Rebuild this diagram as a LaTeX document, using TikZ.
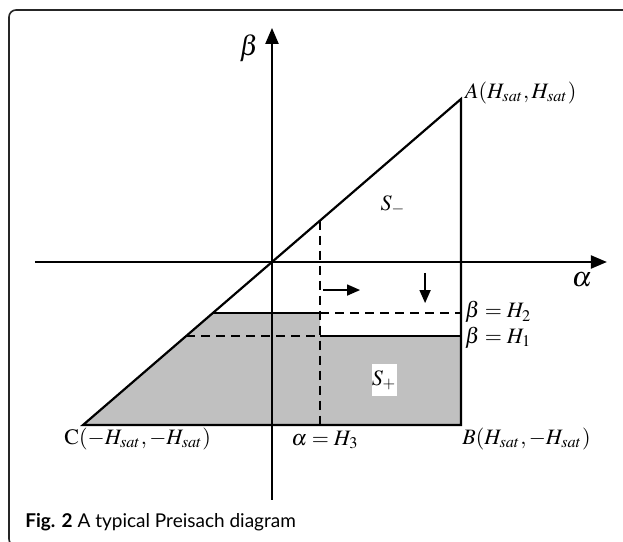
\documentclass[tikz,border=0pt]{standalone}
\usepackage{mathptmx}
\usepackage{fontspec}
\setmainfont{Liberation Serif}
\newfontfamily\capfont{Lato}
\usetikzlibrary{arrows.meta}
\definecolor{plane}{RGB}{192,192,192}

\begin{document}
\begin{tikzpicture}[
    x={(94.5pt,0)}, y={(0,81.5pt)},
    axis/.style={line width=1.1pt, -{Triangle[length=8pt,width=6.5pt]}},
    edge/.style={line width=1.1pt, line join=miter},
    level/.style={line width=1pt, dash pattern=on 4.5pt off 3pt},
    move/.style={line width=0.8pt, -{Triangle[length=6.5pt,width=5.5pt]}},
    lbl/.style={font=\fontsize{11}{13}\selectfont, inner sep=0pt},
    axlbl/.style={font=\fontsize{14}{16}\selectfont, inner sep=0pt}
]
\useasboundingbox (-136pt,131pt) rectangle (175.5pt,-140pt);

% FRAME
\begin{scope}
    \clip (-136pt,131pt) rectangle (175.5pt,-140pt);
    \draw[line width=0.8pt, draw=black!85, rounded corners=3.5pt] (-131.5pt,126pt) rectangle (214pt,-142pt);
\end{scope}

% CORNERS OF THE PREISACH PLANE
\coordinate (O) at (0,0);
\coordinate (A) at (1,1);
\coordinate (B) at (1,-1);
\coordinate (C) at (-1,-1);

% SWITCHING LEVELS
\coordinate (h2diag) at (-0.313,-0.313);
\coordinate (h2mid) at (0.254,-0.313);
\coordinate (h2end) at (1,-0.313);
\coordinate (h1diag) at (-0.454,-0.454);
\coordinate (h1mid) at (0.254,-0.454);
\coordinate (h1end) at (1,-0.454);
\coordinate (h3top) at (0.254,0.254);
\coordinate (h3bot) at (0.254,-1);

% S+ REGION
\fill[plane] (C) -- (B) -- (h1end) -- (h1mid) -- (h2mid) -- (h2diag) -- cycle;

% TRIANGLE
\draw[edge] (C) -- (A) -- (B) -- cycle;

% BOUNDARY LINES
\draw[edge] (h2diag) -- (h2mid);
\draw[level] (h2mid) -- (h2end);
\draw[level] (h1diag) -- (h1mid);
\draw[edge] (h1mid) -- (h1end);
\draw[level] (h3top) -- (h3bot);

% AXES
\coordinate (aleft) at (-1.254,0);
\coordinate (aright) at (1.772,0);
\coordinate (bbot) at (0,-1.46);
\coordinate (btop) at (0,1.436);
\draw[axis] (aleft) -- (aright);
\draw[axis] (bbot) -- (btop);

% MOVES
\coordinate (mr1) at (0.27,-0.172);
\coordinate (mr2) at (0.466,-0.172);
\coordinate (md1) at (0.81,-0.067);
\coordinate (md2) at (0.81,-0.252);
\draw[move] (mr1) -- (mr2);
\draw[move] (md1) -- (md2);

% LABELS
\node[axlbl] (beta) at (-0.122,1.313) {$\beta$};
\node[axlbl] (alpha) at (1.64,-0.11) {$\alpha$};
\node[lbl] (sminus) at (0.64,0.35) {$S_-$};
\node[lbl, fill=white, minimum width=12.5pt, minimum height=16pt] (splus) at (0.593,-0.724) {$S_+$};
\node[lbl, anchor=base west] (alab) at (1.02,1.006) {$A(H_{sat},H_{sat})$};
\node[lbl, anchor=west] (h2lab) at (1.02,-0.307) {$\beta=H_2$};
\node[lbl, anchor=west] (h1lab) at (1.02,-0.466) {$\beta=H_1$};
\node[lbl, anchor=west] (clab) at (-1.10,-1.086) {$\mathrm{C}(-H_{sat},-H_{sat})$};
\node[lbl, anchor=west] (blab) at (1.005,-1.086) {$B(H_{sat},-H_{sat})$};
\node[lbl] (h3lab) at (0.28,-1.09) {$\alpha=H_3$};

% CAPTION
\node[anchor=base west, inner sep=0pt, font=\capfont\fontsize{9.5}{11}\selectfont] (cap) at (-123.5pt,-132.5pt) {\textbf{Fig. 2} A typical Preisach diagram};

\end{tikzpicture}
\end{document}
